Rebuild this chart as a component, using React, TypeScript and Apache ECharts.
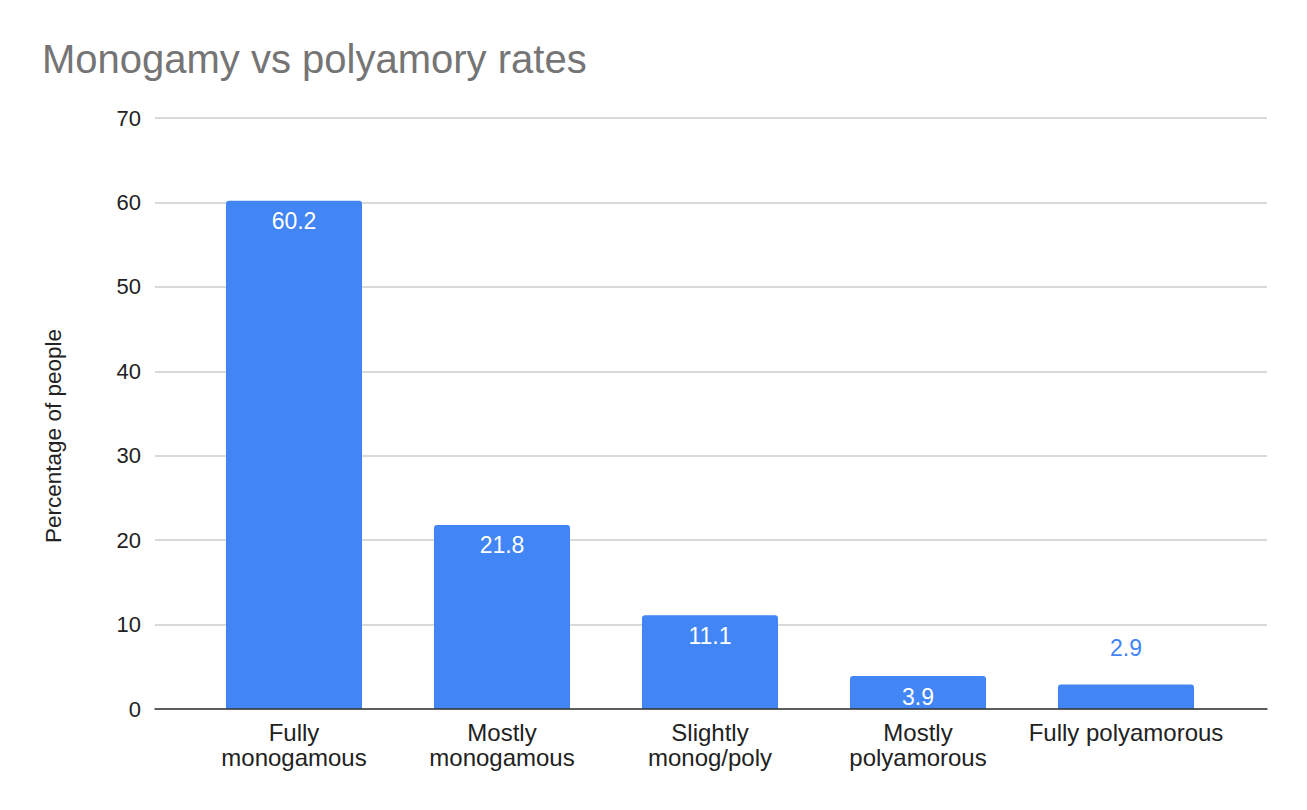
import React, { useEffect, useRef } from "react";
import * as echarts from "echarts";

const categories = [
  "Fully\nmonogamous",
  "Mostly\nmonogamous",
  "Slightly\nmonog/poly",
  "Mostly\npolyamorous",
  "Fully polyamorous",
];
const values = [60.2, 21.8, 11.1, 3.9, 2.9];
const yTicks = { min: 0, max: 70, interval: 10 };
const titleText = "Monogamy vs polyamory rates";
const yAxisName = "Percentage of people";

const FONT = "'Liberation Sans', Arial, sans-serif";
const BLUE = "#4285F4";

export default function App() {
  const ref = useRef<HTMLDivElement>(null);
  useEffect(() => {
    document.body.style.margin = "0";
    if (!ref.current) return;
    const chart = echarts.init(ref.current, null, { renderer: "svg" });
    const seriesData = values.map((v) =>
      v < 3.5
        ? {
            value: v,
            label: { position: "top", color: BLUE, distance: 25 },
          }
        : { value: v }
    );
    chart.setOption({
      animation: false,
      backgroundColor: "#ffffff",
      title: {
        text: titleText,
        left: 37,
        top: 34,
        textStyle: {
          fontFamily: FONT,
          fontSize: 40,
          fontWeight: "normal",
          color: "#757575",
        },
      },
      graphic: [
        {
          type: "text",
          x: 53,
          y: 436,
          rotation: Math.PI / 2,
          style: {
            text: yAxisName,
            fontFamily: FONT,
            fontSize: 22.5,
            fill: "#222222",
            textAlign: "center",
            textVerticalAlign: "middle",
          },
        },
      ],
      grid: [
        { left: 155, right: 40, top: 118, bottom: 101 },
        { left: 190, right: 77, top: 118, bottom: 101 },
      ],
      xAxis: [
        {
          gridIndex: 0,
          type: "value",
          min: 0,
          max: 1,
          z: 5,
          axisLine: { show: true, onZero: false, lineStyle: { color: "#333333", width: 1.5 } },
          axisTick: { show: false },
          axisLabel: { show: false },
          splitLine: { show: false },
        },
        {
          gridIndex: 1,
          type: "category",
          data: categories,
          axisLine: { show: false },
          axisTick: { show: false },
          axisLabel: {
            fontFamily: FONT,
            fontSize: 24,
            lineHeight: 25,
            color: "#222222",
            margin: 11,
            interval: 0,
          },
        },
      ],
      yAxis: [
        {
          gridIndex: 0,
          type: "value",
          min: yTicks.min,
          max: yTicks.max,
          interval: yTicks.interval,
          axisLine: { show: false },
          axisTick: { show: false },
          axisLabel: {
            fontFamily: FONT,
            fontSize: 22,
            color: "#222222",
            margin: 14,
          },
          splitLine: { lineStyle: { color: "#cccccc", width: 1.5 } },
        },
        {
          gridIndex: 1,
          type: "value",
          min: yTicks.min,
          max: yTicks.max,
          interval: yTicks.interval,
          show: false,
          splitLine: { show: false },
        },
      ],
      series: [
        {
          type: "bar",
          xAxisIndex: 1,
          yAxisIndex: 1,
          data: seriesData,
          barWidth: 136,
          itemStyle: { color: BLUE, borderRadius: [3, 3, 0, 0] },
          label: {
            show: true,
            position: "insideTop",
            distance: 9,
            color: "#ffffff",
            fontFamily: FONT,
            fontSize: 23,
          },
        },
      ],
    });
    return () => chart.dispose();
  }, []);
  return <div ref={ref} style={{ width: 1307, height: 810 }} />;
}
